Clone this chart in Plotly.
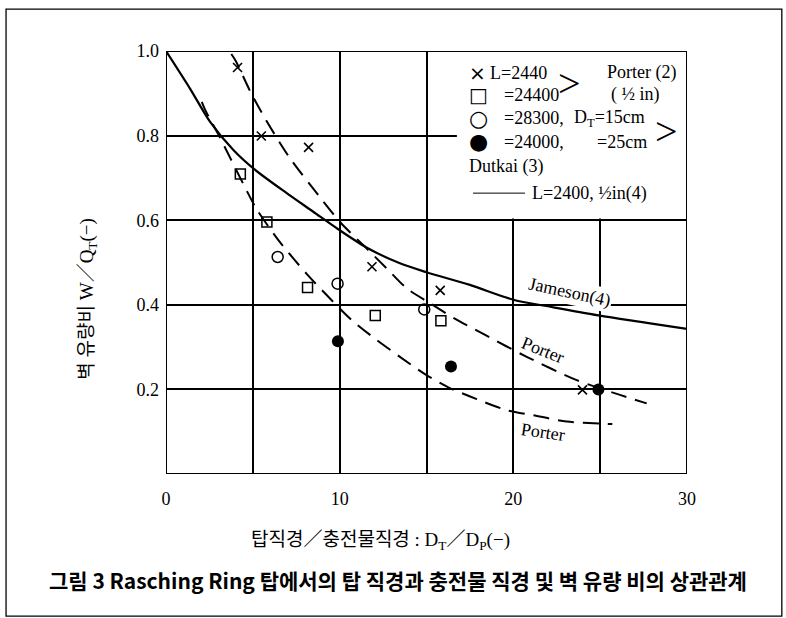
import plotly.graph_objects as go

# ---- data ----
cross_x = [4.12, 5.49, 8.21, 11.86, 15.79, 23.98]
cross_y = [0.961, 0.799, 0.772, 0.490, 0.434, 0.199]

square_x = [4.28, 5.81, 8.15, 12.05, 15.83]
square_y = [0.709, 0.596, 0.441, 0.375, 0.362]

open_circle_x = [6.43, 9.88, 14.87]
open_circle_y = [0.513, 0.450, 0.389]

filled_circle_x = [9.90, 16.41, 24.90]
filled_circle_y = [0.314, 0.254, 0.200]

jameson_x = [0, 1.4, 2.53, 3.88, 5.1, 6.95, 8.48, 9.94, 11.57, 13.47, 15.0, 17.5, 20.0, 22.3, 24.9, 30]
jameson_y = [1.0, 0.91, 0.833, 0.766, 0.72, 0.664, 0.620, 0.578, 0.535, 0.498, 0.477, 0.447, 0.412, 0.394, 0.375, 0.343]

porter_upper_x = [3.76, 4.01, 4.88, 5.7, 7.08, 8.91, 10.06, 11.36, 12.71, 13.86, 15.2, 16.68, 18.27, 20.77, 23.65, 26.14, 27.68]
porter_upper_y = [0.993, 0.977, 0.902, 0.841, 0.75, 0.652, 0.594, 0.541, 0.486, 0.439, 0.404, 0.366, 0.331, 0.277, 0.222, 0.187, 0.167]

porter_lower_x = [2.06, 2.30, 3.05, 4.68, 5.22, 6.47, 8.1, 9.25, 10.69, 12.13, 13.47, 14.91, 16.26, 17.89, 19.62, 21.15, 23.07, 25.18, 25.7]
porter_lower_y = [0.88, 0.857, 0.80, 0.667, 0.626, 0.553, 0.473, 0.423, 0.364, 0.317, 0.277, 0.236, 0.205, 0.177, 0.151, 0.139, 0.124, 0.119, 0.118]

x_tickvals = [0, 10, 20, 30]
x_ticktext = ["0", "10", "20", "30"]
y_tickvals = [0.2, 0.4, 0.6, 0.8, 1.0]
y_ticktext = ["0.2", "0.4", "0.6", "0.8", "1.0"]

SERIF = "Liberation Serif, Noto Sans CJK KR, serif"
KR = "Noto Sans CJK KR, Liberation Serif, sans-serif"
SYM = "DejaVu Sans, sans-serif"

fig = go.Figure()

dash = "16px,9px"
fig.add_trace(go.Scatter(x=jameson_x, y=jameson_y, mode="lines",
                         line=dict(color="black", width=2.2, shape="spline", smoothing=0.8)))
fig.add_trace(go.Scatter(x=porter_upper_x, y=porter_upper_y, mode="lines",
                         line=dict(color="black", width=2, dash=dash, shape="spline", smoothing=0.8)))
fig.add_trace(go.Scatter(x=porter_lower_x, y=porter_lower_y, mode="lines",
                         line=dict(color="black", width=2, dash=dash, shape="spline", smoothing=0.8)))

fig.add_trace(go.Scatter(x=cross_x, y=cross_y, mode="markers",
                         marker=dict(symbol="x-thin-open", size=9, color="black",
                                     line=dict(color="black", width=1.6))))
fig.add_trace(go.Scatter(x=square_x, y=square_y, mode="markers",
                         marker=dict(symbol="square-open", size=10, color="black",
                                     line=dict(color="black", width=1.5))))
fig.add_trace(go.Scatter(x=open_circle_x, y=open_circle_y, mode="markers",
                         marker=dict(symbol="circle-open", size=11, color="black",
                                     line=dict(color="black", width=1.5))))
fig.add_trace(go.Scatter(x=filled_circle_x, y=filled_circle_y, mode="markers",
                         marker=dict(symbol="circle", size=12, color="black")))

shapes = [
    # legend white box
    dict(type="rect", xref="x", yref="y", x0=16.75, x1=30, y0=0.604, y1=1.0,
         fillcolor="white", line=dict(width=0), layer="above"),
    # plot frame
    dict(type="rect", xref="x", yref="y", x0=0, x1=30, y0=0, y1=1.0,
         fillcolor="rgba(0,0,0,0)", line=dict(color="black", width=2), layer="above"),
    # legend line sample
    dict(type="line", xref="x", yref="y", x0=17.68, x1=20.67, y0=0.664, y1=0.664,
         line=dict(color="black", width=1), layer="above"),
    # outer frame
    dict(type="rect", xref="paper", yref="paper", x0=-0.307, x1=1.182, y0=-0.336, y1=1.099,
         fillcolor="rgba(0,0,0,0)", line=dict(color="black", width=1.3)),
]

def ann(x, y, text, size=18, xanchor="left", angle=0, font=SERIF, bg=None, xref="x", yref="y", bold=False):
    d = dict(x=x, y=y, xref=xref, yref=yref, text=text, showarrow=False,
             xanchor=xanchor, yanchor="middle", textangle=angle,
             font=dict(family=font, size=size, color="black",
                       weight="bold" if bold else "normal"))
    if bg:
        d["bgcolor"] = bg
    return d

annotations = [
    ann(17.31, 0.948, "×", size=20, font=SYM),
    ann(18.54, 0.948, "L=2440"),
    ann(17.31, 0.896, "□", size=20, font=SYM),
    ann(19.33, 0.896, "=24400"),
    ann(17.31, 0.841, "○", size=22, font=SYM),
    ann(19.33, 0.841, "=28300,"),
    ann(23.36, 0.841, "D<sub>T</sub>=15cm"),
    ann(17.31, 0.786, "●", size=22, font=SYM),
    ann(19.33, 0.786, "=24000,"),
    ann(24.70, 0.786, "=25cm"),
    ann(17.31, 0.726, "Dutkai (3)"),
    ann(20.96, 0.664, "L=2400, ½in(4)"),
    ann(25.27, 0.949, "Porter (2)"),
    ann(27.06, 0.896, "( ½ in)", xanchor="center"),
    ann(23.26, 0.922, ">", size=40, xanchor="center"),
    ann(28.8, 0.809, ">", size=40, xanchor="center"),
    ann(23.26, 0.428, "Jameson(4)", angle=12, xanchor="center", bg="white"),
    ann(21.7, 0.293, "Porter", angle=22, xanchor="center"),
    ann(21.7, 0.100, "Porter", angle=8, xanchor="center"),
    # axis titles and caption
    ann(0.411, -0.158, "탑직경／충전물직경 : D<sub>T</sub>／D<sub>P</sub>(−)", size=19,
        xanchor="center", font=SERIF, xref="paper", yref="paper"),
    ann(-0.15, 0.414, "벽 유량비 W／Q<sub>T</sub>(−)", size=19, angle=-90,
        xanchor="center", font=SERIF, xref="paper", yref="paper"),
    ann(0.445, -0.251, "그림 3 Rasching Ring 탑에서의 탑 직경과 충전물 직경 및 벽 유량 비의 상관관계",
        size=21, xanchor="center", font=KR, xref="paper", yref="paper", bold=True),
]

fig.update_layout(
    width=786, height=618,
    margin=dict(l=166, r=99, t=51, b=144),
    paper_bgcolor="white", plot_bgcolor="white",
    showlegend=False,
    shapes=shapes, annotations=annotations,
    xaxis=dict(range=[0, 30], tickvals=x_tickvals, ticktext=x_ticktext,
               showgrid=True, gridcolor="black", gridwidth=1.5,
               minor=dict(dtick=5, showgrid=True, gridcolor="black", gridwidth=1.5, ticks=""),
               zeroline=False, showline=False, ticks="", ticklabelstandoff=12,
               tickfont=dict(family=SERIF, size=18, color="black")),
    yaxis=dict(range=[0, 1.0], tickvals=y_tickvals, ticktext=y_ticktext,
               showgrid=True, gridcolor="black", gridwidth=1.5,
               zeroline=False, showline=False, ticks="", ticklabelstandoff=6,
               tickfont=dict(family=SERIF, size=18, color="black")),
)

fig.write_html("out.html", config={"displayModeBar": False},
               post_script="document.body.style.margin='0';document.body.style.overflow='hidden';")
